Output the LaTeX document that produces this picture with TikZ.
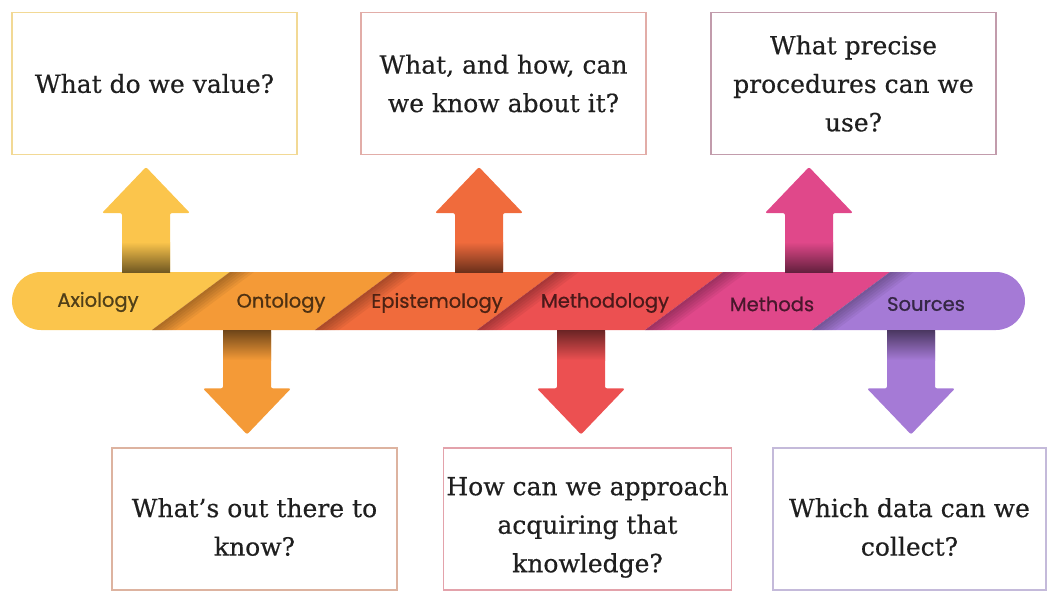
\documentclass[tikz,border=0pt]{standalone}
\usepackage{fontspec}
\setmainfont{DejaVu Serif}[FakeBold=0.5]
\newfontfamily\stagefont{Poppins}[FakeBold=0.8]
\usetikzlibrary{calc,positioning}

\definecolor{axiocol}{HTML}{FBC54C}
\definecolor{ontocol}{HTML}{F49A37}
\definecolor{epicol}{HTML}{F06B3C}
\definecolor{methcol}{HTML}{EC5051}
\definecolor{methscol}{HTML}{E0488A}
\definecolor{sourcol}{HTML}{A57AD6}

% frame colours of the question boxes
\definecolor{axioline}{HTML}{F2D995}
\definecolor{ontoline}{HTML}{DDB3A0}
\definecolor{epiline}{HTML}{E2ADA8}
\definecolor{methline}{HTML}{E3A2AB}
\definecolor{methsline}{HTML}{C29CAC}
\definecolor{sourline}{HTML}{C4BADA}

\tikzset{
  question/.style = {draw=#1, line width=1.1pt, rectangle, minimum width=285pt,
    minimum height=142pt, align=center, text=black!88,
    font=\fontsize{25}{38.5}\selectfont},
  stage/.style = {font=\stagefont\fontsize{19.5}{21}\selectfont, text=#1!32!black},
}

% pushes a text a little lower in its box
\newcommand{\lowtext}{\rule{0pt}{35pt}}

% block arrow: base, tip, colour, direction (1 up, -1 down)
\newcommand{\qarrow}[4]{%
  \fill[#3, rounded corners=2pt] let \p1 = (#1), \p2 = (#2) in
    (\x1-24pt,\y1) -- (\x1-24pt,{\y2-(#4)*46pt}) -- (\x1-44pt,{\y2-(#4)*46pt})
    -- (\x2,\y2) -- (\x1+44pt,{\y2-(#4)*46pt}) -- (\x1+24pt,{\y2-(#4)*46pt})
    -- (\x1+24pt,\y1) -- cycle;
  \shade[top color=#3, bottom color=#3!45!black, shading angle={90-90*(#4)}]
    let \p1 = (#1) in (\x1-24pt,\y1) rectangle (\x1+24pt,{\y1+(#4)*30pt});
}

\begin{document}
\begin{tikzpicture}[x=1pt, y=-1pt]
 \useasboundingbox (0,0) rectangle (1050,597);

 % questions
 \node[question=axioline] (qaxio) at (154.5,83.5) {What do we value?};
 \node[question=epiline] (qepi) at (503.5,83.5) {What, and how, can\\we know about it?};
 \node[question=methsline] (qmeths) at (853.5,83.5) {What precise\\procedures can we\\use?};
 \node[question=ontoline] (qonto) at (254.5,519) {\lowtext What's out there to\\know?};
 \node[question=methline] (qmeth) at (587.5,519) {\lowtext How can we approach\\acquiring that\\knowledge?};
 \node[question=sourline, minimum width=273pt] (qsour) at (909.5,519) {\lowtext Which data can we\\collect?};

 % the band
 \begin{scope}
  \clip[rounded corners=29pt] (12,272) rectangle (1025,330);
  \foreach \col/\ta/\tb in {axiocol/-100/230, ontocol/230/393, epicol/393/555,
                           methcol/555/723, methscol/723/890, sourcol/890/1140}
    \fill[\col] (\ta,272) -- (\tb,272) -- (\tb-78,330) -- (\ta-78,330) -- cycle;
  \foreach \t in {230,393,555,723,890}
    \foreach \w in {4,8,...,24}
      \fill[black, opacity=0.05] (\t,272) -- (\t+\w,272) -- (\t-78+\w,330) -- (\t-78,330) -- cycle;
 \end{scope}

 \node[stage=axiocol] (axio) at (98,302) {Axiology};
 \node[stage=ontocol] (onto) at (281,303) {Ontology};
 \node[stage=epicol] (epi) at (437,303) {Epistemology};
 \node[stage=methcol] (meth) at (605,303) {Methodology};
 \node[stage=methscol] (meths) at (772,304) {Methods};
 \node[stage=sourcol] (sour) at (926,304) {Sources};

 % arrows from the band
 \coordinate (axio up) at (146,272);
 \coordinate (epi up) at (479,272);
 \coordinate (meths up) at (809,272);
 \coordinate (onto down) at (247,330);
 \coordinate (meth down) at (581,330);
 \coordinate (sour down) at (911,330);

 \qarrow{axio up}{$(axio up |- qaxio.south)+(0,12)$}{axiocol}{1}
 \qarrow{epi up}{$(epi up |- qepi.south)+(0,12)$}{epicol}{1}
 \qarrow{meths up}{$(meths up |- qmeths.south)+(0,12)$}{methscol}{1}
 \qarrow{onto down}{$(onto down |- qonto.north)+(0,-13)$}{ontocol}{-1}
 \qarrow{meth down}{$(meth down |- qmeth.north)+(0,-13)$}{methcol}{-1}
 \qarrow{sour down}{$(sour down |- qsour.north)+(0,-13)$}{sourcol}{-1}
\end{tikzpicture}
\end{document}
